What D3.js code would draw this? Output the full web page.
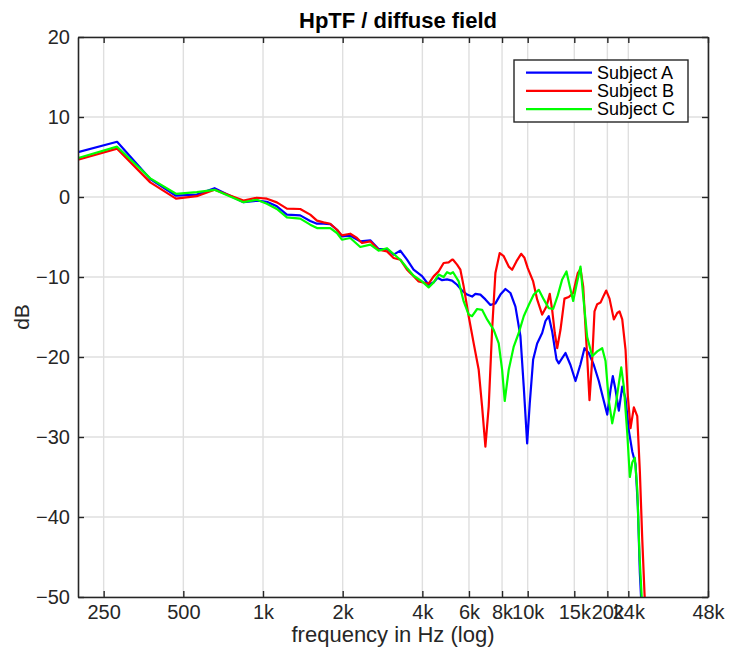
<!DOCTYPE html>
<html>
<head>
<meta charset="utf-8">
<script src="https://cdn.jsdelivr.net/npm/d3@7"></script>
<style>
  html, body { margin: 0; padding: 0; background: #fff; }
  svg { display: block; font-family: "Liberation Sans", Arial, Helvetica, sans-serif; }
</style>
</head>
<body>
<svg id="chart" width="730" height="652"></svg>
<script>
// ---- data ----
const title = "HpTF / diffuse field";
const xLabel = "frequency in Hz (log)";
const yLabel = "dB";
const xTickValues = [250, 500, 1000, 2000, 4000, 6000, 8000, 10000, 15000, 20000, 24000, 48000];
const xTickLabels = ["250", "500", "1k", "2k", "4k", "6k", "8k", "10k", "15k", "20k", "24k", "48k"];
const yTickValues = [-50, -40, -30, -20, -10, 0, 10, 20];
const seriesNames = ["Subject A", "Subject B", "Subject C"];
const seriesColors = ["#0000ff", "#ff0000", "#00ff00"];

const freqA = [200, 281, 375, 469, 562, 656, 844, 948, 1034, 1128, 1231, 1382, 1508, 1599, 1693, 1795, 1903, 1987, 2136, 2331, 2543, 2733, 2941, 3115, 3302, 3500, 3707, 3989, 4225, 4413, 4569, 4748, 4959, 5180, 5410, 5651, 5902, 6165, 6345, 6627, 6922, 7230, 7552, 7888, 8239, 8606, 8989, 9389, 9663, 9953, 10181, 10487, 10858, 11342, 11672, 12012, 12373, 12846, 13106, 13892, 14511, 15157, 15831, 16392, 17017, 17775, 18566, 19392, 19975, 20557, 20973, 21473, 22099, 22764, 23427, 24110, 24834, 25557, 26074, 26532, 26900];
const dbA   = [5.6, 6.9, 2.25, 0.16, 0.3, 1.1, -0.65, -0.46, -0.59, -1.17, -2.2, -2.3, -3.0, -3.34, -3.34, -3.38, -4.09, -4.92, -4.84, -5.55, -5.42, -6.5, -6.5, -7.2, -6.7, -7.84, -9.09, -9.9, -10.97, -10.67, -10.1, -10.4, -10.3, -10.45, -10.97, -11.7, -12.2, -12.45, -12.1, -12.2, -12.8, -13.5, -13.3, -12.2, -11.5, -12.0, -13.7, -17.4, -23.7, -30.8, -25.8, -20.3, -18.3, -17.0, -15.5, -14.9, -16.8, -20.3, -20.8, -19.5, -21.0, -23.0, -20.9, -18.9, -19.5, -21.0, -23.0, -25.5, -27.2, -24.1, -22.4, -24.1, -26.7, -23.7, -25.2, -29.2, -31.8, -33.4, -38.7, -47.0, -51.0];

const freqB = [200, 281, 375, 469, 562, 656, 844, 948, 1034, 1128, 1231, 1382, 1508, 1599, 1693, 1795, 1903, 1987, 2136, 2265, 2366, 2543, 2733, 2941, 3115, 3302, 3500, 3656, 3872, 4225, 4413, 4609, 4814, 5029, 5180, 5225, 5410, 5568, 5730, 5985, 6252, 6530, 6726, 6922, 7124, 7338, 7552, 7840, 8118, 8479, 8734, 9067, 9446, 9722, 10005, 10487, 10858, 11342, 11774, 12118, 12373, 12657, 12924, 13301, 13772, 14297, 14856, 15463, 15831, 16208, 16782, 17122, 17529, 17884, 18309, 18843, 19392, 19802, 20379, 21157, 21793, 22234, 22764, 23427, 23901, 24469, 25182, 25938, 26532, 27093, 27641, 27900];
const dbB   = [4.66, 6.04, 1.83, -0.2, 0.1, 0.9, -0.45, -0.09, -0.21, -0.67, -1.46, -1.5, -2.2, -2.96, -3.17, -3.34, -4.09, -4.8, -4.59, -5.13, -5.75, -5.54, -6.59, -6.8, -7.63, -7.84, -9.09, -9.7, -10.55, -10.84, -9.92, -9.3, -8.25, -8.17, -7.84, -7.84, -8.46, -9.09, -11.17, -14.9, -18.3, -21.6, -26.2, -31.2, -26.2, -16.6, -9.5, -7.0, -7.4, -8.7, -9.1, -8.05, -7.1, -7.6, -8.9, -10.55, -12.8, -14.7, -13.7, -12.1, -14.1, -17.0, -18.9, -16.6, -12.7, -12.5, -12.0, -9.5, -9.0, -11.2, -20.0, -25.4, -20.3, -14.3, -13.4, -13.2, -12.3, -11.7, -12.7, -15.3, -14.5, -14.3, -15.3, -19.1, -24.9, -28.9, -26.3, -27.4, -34.3, -42.8, -49.7, -52.0];

const freqC = [200, 281, 375, 469, 562, 656, 844, 948, 1034, 1128, 1231, 1382, 1508, 1599, 1693, 1795, 1903, 1987, 2136, 2331, 2543, 2733, 2941, 3115, 3302, 3500, 3707, 3989, 4225, 4413, 4609, 4814, 4959, 5104, 5225, 5486, 5730, 5985, 6165, 6440, 6726, 7025, 7441, 7772, 8006, 8189, 8479, 8857, 9251, 9663, 10093, 10542, 11011, 11501, 12012, 12482, 12992, 13499, 14014, 14423, 14856, 15289, 15831, 16208, 16782, 17529, 18309, 19124, 19681, 20255, 20864, 21473, 22099, 22566, 23083, 23776, 24320, 24834, 25402, 25938, 26463, 26928, 27150];
const dbC   = [4.87, 6.29, 2.33, 0.4, 0.6, 0.9, -0.65, -0.34, -0.84, -1.5, -2.55, -2.71, -3.46, -3.88, -3.88, -3.88, -4.5, -5.34, -5.13, -6.25, -5.96, -6.7, -6.4, -7.13, -7.84, -8.88, -9.84, -10.55, -11.3, -10.67, -9.7, -10.0, -9.4, -9.6, -9.4, -10.55, -13.05, -14.7, -14.9, -14.0, -14.1, -15.3, -16.6, -18.3, -21.6, -25.5, -21.6, -18.7, -17.0, -14.9, -13.5, -12.2, -11.6, -12.8, -13.9, -14.0, -12.3, -10.3, -9.3, -11.2, -13.0, -11.0, -8.7, -12.4, -17.5, -19.9, -19.3, -18.9, -20.5, -25.5, -28.3, -26.2, -23.3, -21.3, -23.7, -29.5, -35.0, -33.2, -32.6, -36.5, -44.9, -49.7, -52.0];

const seriesFreqs = [freqA, freqB, freqC];
const seriesDb = [dbA, dbB, dbC];

// ---- layout ----
const W = 730, H = 652;
const plot = { left: 78, right: 708, top: 37, bottom: 597 };
const axisColor = "#262626";
const gridColor = "#dfdfdf";
const fontFam = "'Liberation Sans', Arial, Helvetica, sans-serif";

const svg = d3.select("#chart");
const x = d3.scaleLog().domain([200, 48000]).range([plot.left, plot.right]);
const y = d3.scaleLinear().domain([-50, 20]).range([plot.bottom, plot.top]);

svg.append("rect").attr("width", W).attr("height", H).attr("fill", "#fff");

// grid
const grid = svg.append("g");
grid.selectAll("line.vx").data(xTickValues).enter().append("line")
  .attr("x1", d => x(d)).attr("x2", d => x(d))
  .attr("y1", plot.top).attr("y2", plot.bottom)
  .attr("stroke", gridColor).attr("stroke-width", 1.4);
grid.selectAll("line.hy").data(yTickValues).enter().append("line")
  .attr("y1", d => y(d)).attr("y2", d => y(d))
  .attr("x1", plot.left).attr("x2", plot.right)
  .attr("stroke", gridColor).attr("stroke-width", 1.4);

// clip
svg.append("clipPath").attr("id", "clip").append("rect")
  .attr("x", plot.left).attr("y", plot.top)
  .attr("width", plot.right - plot.left).attr("height", plot.bottom - plot.top);

const line = d3.line().x(d => x(d[0])).y(d => y(d[1]));
const lines = svg.append("g").attr("clip-path", "url(#clip)");
seriesNames.forEach((name, i) => {
  const pts = seriesFreqs[i].map((f, j) => [f, seriesDb[i][j]]);
  lines.append("path").datum(pts)
    .attr("d", line)
    .attr("fill", "none")
    .attr("stroke", seriesColors[i])
    .attr("stroke-width", 2.2)
    .attr("stroke-linejoin", "round");
});

// axes
const fmtX = d => xTickLabels[xTickValues.indexOf(d)];
const axB = d3.axisBottom(x).tickValues(xTickValues).tickFormat(fmtX).tickSizeInner(-6).tickSizeOuter(0).tickPadding(8);
const axT = d3.axisTop(x).tickValues(xTickValues).tickFormat("").tickSizeInner(-6).tickSizeOuter(0);
const axL = d3.axisLeft(y).tickValues(yTickValues).tickSizeInner(-6).tickSizeOuter(0).tickPadding(8);
const axR = d3.axisRight(y).tickValues(yTickValues).tickFormat("").tickSizeInner(-6).tickSizeOuter(0);

function styleAxis(g) {
  g.selectAll("path.domain").attr("stroke", axisColor).attr("stroke-width", 1.6);
  g.selectAll(".tick line").attr("stroke", axisColor).attr("stroke-width", 1.4);
  g.selectAll(".tick text").attr("fill", axisColor).style("font-size", "20px")
    .style("font-family", fontFam);
}
svg.append("g").attr("transform", `translate(0,${plot.bottom})`).call(axB).call(styleAxis);
svg.append("g").attr("transform", `translate(0,${plot.top})`).call(axT).call(styleAxis);
svg.append("g").attr("transform", `translate(${plot.left},0)`).call(axL).call(styleAxis);
svg.append("g").attr("transform", `translate(${plot.right},0)`).call(axR).call(styleAxis);

// titles
svg.append("text").attr("x", 398).attr("y", 28)
  .attr("text-anchor", "middle").attr("font-weight", "bold").attr("font-size", 22)
  .attr("fill", "#000").text(title);
svg.append("text").attr("x", 393).attr("y", 642)
  .attr("text-anchor", "middle").attr("font-size", 22).attr("fill", axisColor).text(xLabel);
svg.append("text").attr("transform", `translate(29,${(plot.top + plot.bottom) / 2}) rotate(-90)`)
  .attr("text-anchor", "middle").attr("font-size", 21).attr("fill", axisColor).text(yLabel);

// legend
const lg = svg.append("g").attr("transform", "translate(514,60)");
lg.append("rect").attr("width", 174).attr("height", 62)
  .attr("fill", "#fff").attr("stroke", axisColor).attr("stroke-width", 1.4);
seriesNames.forEach((name, i) => {
  const yy = 12.7 + i * 18.2;
  lg.append("line").attr("x1", 12).attr("x2", 78).attr("y1", yy).attr("y2", yy)
    .attr("stroke", seriesColors[i]).attr("stroke-width", 2.2);
  lg.append("text").attr("x", 83).attr("y", yy).attr("dy", "0.35em")
    .attr("font-size", 18).attr("fill", "#000").text(name);
});
</script>
</body>
</html>
